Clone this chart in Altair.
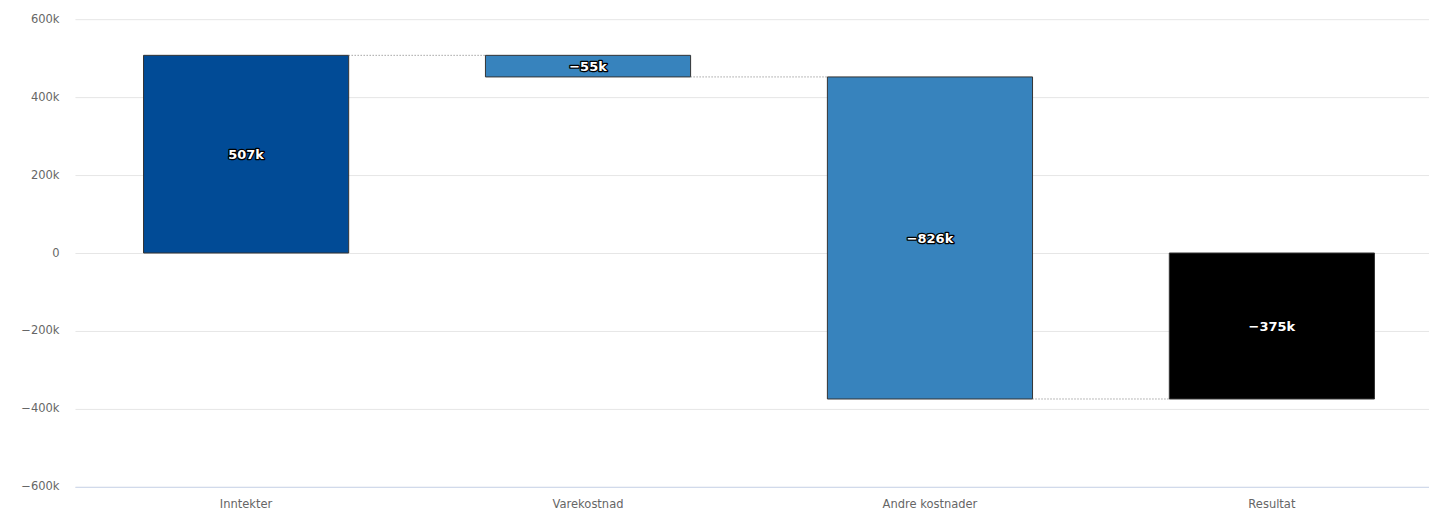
import altair as alt
import pandas as pd

categories = ["Inntekter", "Varekostnad", "Andre kostnader", "Resultat"]
amounts = [507200, -55400, -826400]  # the three steps; Resultat is their sum
labels = ["507k", "−55k", "−826k", "−375k"]
kinds = ["income", "cost", "cost", "total"]

rows = []
level = 0.0
for cat, amt in zip(categories[:3], amounts):
    rows.append({"cat": cat, "start": level, "end": level + amt})
    level += amt
rows.append({"cat": categories[3], "start": 0.0, "end": level})
df = pd.DataFrame(rows)
df["label"] = labels
df["kind"] = kinds
df["mid"] = (df["start"] + df["end"]) / 2
df["next"] = list(df["cat"][1:]) + [None]

conn = df.iloc[:3].copy()

xscale = alt.Scale(domain=categories, paddingInner=0.4, paddingOuter=0.18, align=0.557)
yscale = alt.Scale(domain=[-600000, 600000], nice=False)

FONT = "DejaVu Sans"

base = alt.Chart(df)

bars = base.mark_bar(stroke="#333333", strokeWidth=1).encode(
    x=alt.X("cat:N", scale=xscale, sort=categories, title=None,
            axis=alt.Axis(labelAngle=0, ticks=False, domainColor="#ccd6eb", labelColor="#666666",
                          labelFontSize=11.5, labelFont=FONT, labelPadding=12, grid=False)),
    y=alt.Y("start:Q", scale=yscale, title=None,
            axis=alt.Axis(values=[-600000, -400000, -200000, 0, 200000, 400000, 600000],
                          labelExpr="datum.value == 0 ? '0' : format(datum.value/1000, 'd') + 'k'",
                          domain=False, ticks=False, gridColor="#e6e6e6", labelColor="#666666",
                          labelFontSize=11.5, labelFont=FONT, labelPadding=16, minExtent=62)),
    y2="end:Q",
    color=alt.Color("kind:N", scale=alt.Scale(domain=["income", "cost", "total"],
                                              range=["#014b96", "#3783bd", "#000000"]), legend=None),
)

rules = alt.Chart(conn).mark_rule(color="#777777", strokeWidth=1, strokeDash=[1, 2]).encode(
    x=alt.X("cat:N", scale=xscale, sort=categories, bandPosition=1),
    x2=alt.X2("next:N", bandPosition=0),
    y=alt.Y("end:Q", scale=yscale),
)

halo = base.mark_text(font=FONT, fontSize=13, fontWeight="bold", color="#000000", dy=1,
                      stroke="#000000", strokeWidth=2.5, strokeJoin="round").encode(
    x=alt.X("cat:N", scale=xscale, sort=categories),
    y=alt.Y("mid:Q", scale=yscale),
    text="label:N",
)
text = base.mark_text(font=FONT, fontSize=13, fontWeight="bold", color="#ffffff", dy=1).encode(
    x=alt.X("cat:N", scale=xscale, sort=categories),
    y=alt.Y("mid:Q", scale=yscale),
    text="label:N",
)

chart = alt.layer(bars, rules, halo, text).properties(
    width=1355, height=468,
    padding={"top": 5, "left": 5, "right": 0, "bottom": 0},
).configure_view(stroke=None)

chart.save("out.html", embed_options={"renderer": "svg", "actions": False})
